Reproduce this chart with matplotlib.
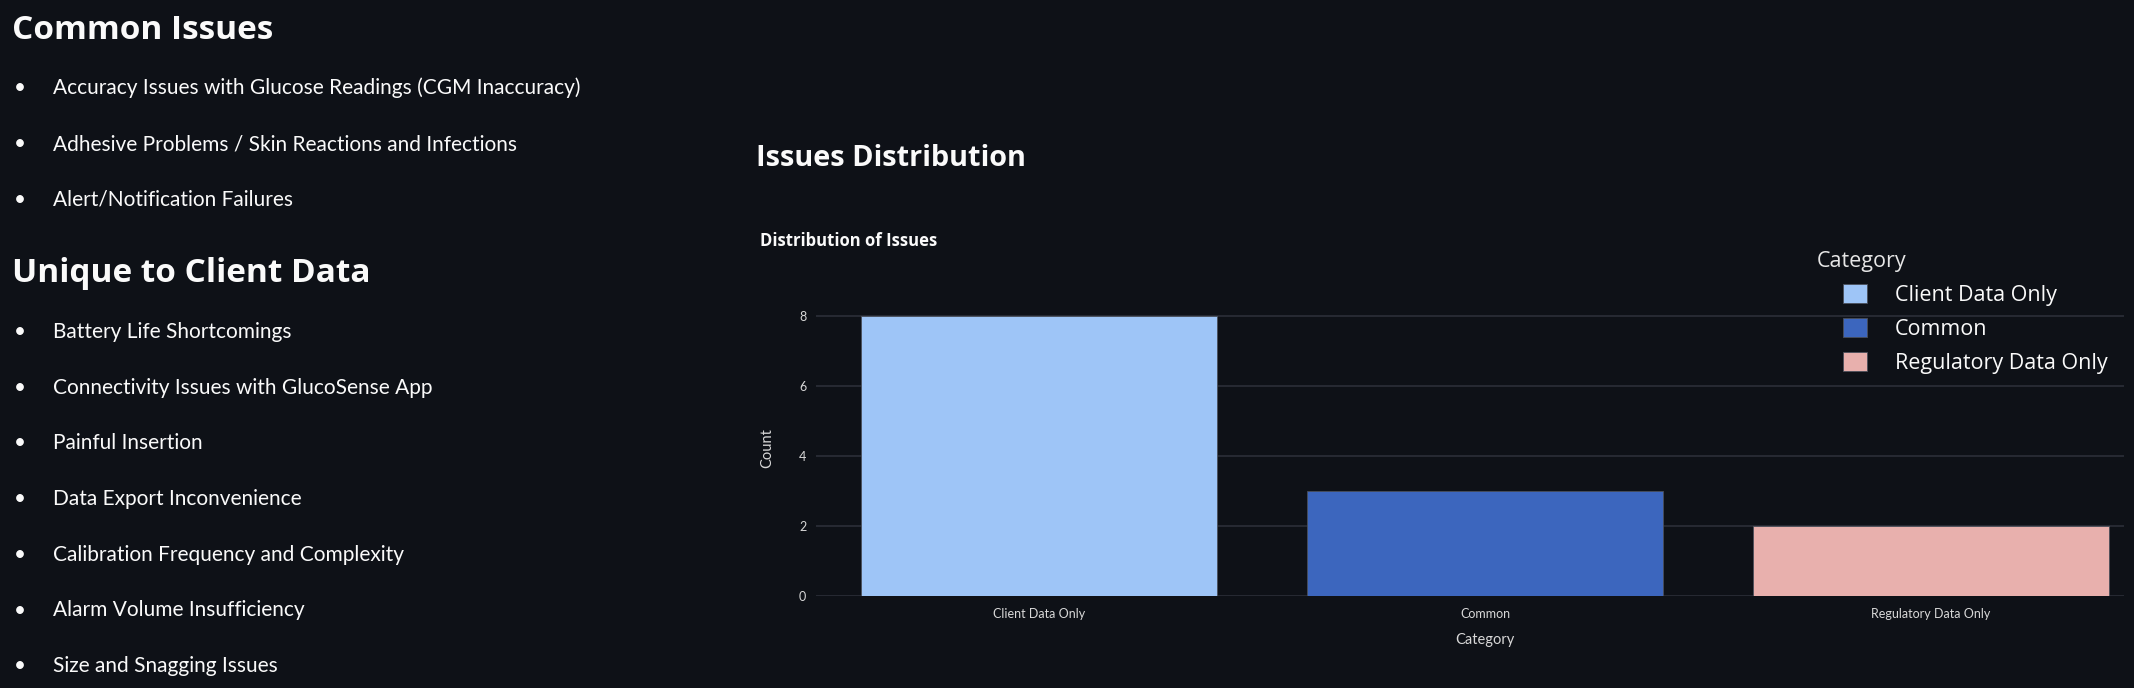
import matplotlib
matplotlib.use("Agg")
import matplotlib.pyplot as plt

# data
categories = ["Client Data Only", "Common", "Regulatory Data Only"]
counts = [8, 3, 2]
bar_colors = ["#9ec5f7", "#3c66be", "#e8b0ad"]

common_issues = [
    "Accuracy Issues with Glucose Readings (CGM Inaccuracy)",
    "Adhesive Problems / Skin Reactions and Infections",
    "Alert/Notification Failures",
]
client_only_issues = [
    "Battery Life Shortcomings",
    "Connectivity Issues with GlucoSense App",
    "Painful Insertion",
    "Data Export Inconvenience",
    "Calibration Frequency and Complexity",
    "Alarm Volume Insufficiency",
    "Size and Snagging Issues",
]

BG = "#0e1117"
TXT = "#fafafa"
W, H = 2134, 688


def fx(x):
    return x / W


def fy(y):
    return 1 - y / H


fig = plt.figure(figsize=(W / 100, H / 100), dpi=100, facecolor=BG)

body_font = "Lato"
head_font = "Open Sans"

# left column: markdown-like lists
fig.text(fx(12), fy(39), "Common Issues", color=TXT, fontsize=24,
         fontweight="bold", family=head_font, va="baseline")
for i, item in enumerate(common_issues):
    yb = 94.3 + i * 55.8
    fig.text(fx(14), fy(yb), "\u2022", color=TXT, fontsize=15, family=body_font, va="baseline")
    fig.text(fx(53), fy(yb), item, color=TXT, fontsize=15, family=body_font, va="baseline")

fig.text(fx(12), fy(282), "Unique to Client Data", color=TXT, fontsize=24,
         fontweight="bold", family=head_font, va="baseline")
for i, item in enumerate(client_only_issues):
    yb = 338 + i * 55.7
    fig.text(fx(14), fy(yb), "\u2022", color=TXT, fontsize=15, family=body_font, va="baseline")
    fig.text(fx(53), fy(yb), item, color=TXT, fontsize=15, family=body_font, va="baseline")

# right column headings
fig.text(fx(756), fy(158), "Issues Distribution", color=TXT, fontsize=20.8,
         fontweight="bold", family=head_font, va="center")
fig.text(fx(760), fy(241), "Distribution of Issues", color=TXT, fontsize=12,
         fontweight="bold", family=head_font, va="center")

# bar chart
x0, x1 = 816, 2124
y0, y1 = 301, 595.7
ax = fig.add_axes([fx(x0), fy(y1), (x1 - x0) / W, (y1 - y0) / H])
ax.set_facecolor(BG)
ax.bar(categories, counts, width=0.8, color=bar_colors, label=categories,
       edgecolor="#4a4f5a", linewidth=0.6, zorder=3)
ax.set_xlim(-0.5, 2.433)
ax.set_ylim(0, 8.42)
ax.set_yticks([0, 2, 4, 6, 8])
ax.grid(axis="y", color="#2b2f38", linewidth=1.2, zorder=0)
ax.grid(axis="x", visible=False)
for s in ax.spines.values():
    s.set_visible(False)
ax.tick_params(axis="both", length=0, colors="#d8d8d8", labelsize=9)
ax.tick_params(axis="y", pad=7)
ax.tick_params(axis="x", pad=9)
for lab in ax.get_xticklabels() + ax.get_yticklabels():
    lab.set_family(body_font)

ax.set_xlabel("Category", color="#d8d8d8", fontsize=10.5, family=body_font)
ax.xaxis.set_label_coords((1485 - x0) / (x1 - x0), (y1 - 640) / (y1 - y0))
ax.xaxis.label.set_va("center")
ax.set_ylabel("Count", color="#d8d8d8", fontsize=10.5, family=body_font)
ax.yaxis.set_label_coords((767 - x0) / (x1 - x0), 0.5)
ax.yaxis.label.set_va("center")

# legend
fig.text(fx(1817), fy(261), "Category", color="#e6e6e6", fontsize=15.5,
         family="Open Sans", va="center")
leg = ax.legend(loc="upper left", bbox_to_anchor=(fx(1843), fy(284)),
                bbox_transform=fig.transFigure, frameon=False,
                prop={"family": "Open Sans", "size": 15.5},
                handlelength=1.12, handleheight=0.97, handletextpad=1.3,
                labelspacing=0.56, borderpad=0, borderaxespad=0)
for t in leg.get_texts():
    t.set_color(TXT)

fig.savefig("out.png", dpi=100, facecolor=BG)
